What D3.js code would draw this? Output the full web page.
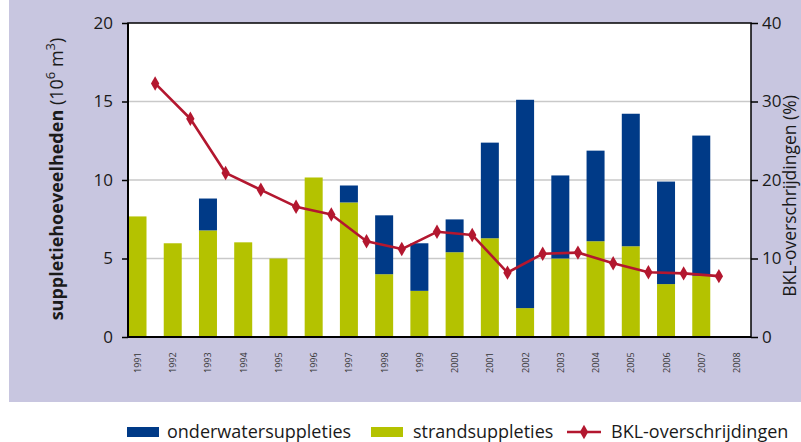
<!DOCTYPE html>
<html>
<head>
<meta charset="utf-8">
<script src="https://cdn.jsdelivr.net/npm/d3@7"></script>
<style>
  html, body { margin: 0; padding: 0; background: #ffffff; }
  svg { display: block; font-family: "Open Sans", "Noto Sans", sans-serif; }
</style>
</head>
<body>
<svg id="chart" width="801" height="442"></svg>
<script>
const years = ["1991","1992","1993","1994","1995","1996","1997","1998","1999","2000","2001","2002","2003","2004","2005","2006","2007","2008"];
const strand = [7.68, 5.97, 6.79, 6.03, 5.0, 10.16, 8.57, 4.0, 2.94, 5.4, 6.29, 1.84, 5.0, 6.1, 5.78, 3.37, 3.9, null];
const onderwater = [0, 0, 2.03, 0, 0, 0, 1.08, 3.75, 3.03, 2.09, 6.09, 13.27, 5.29, 5.77, 8.44, 6.53, 8.93, null];
const bkl = [32.3, 27.8, 20.9, 18.75, 16.6, 15.6, 12.2, 11.2, 13.4, 13.0, 8.2, 10.6, 10.75, 9.4, 8.25, 8.1, 7.75, null];
const leftTicks = [0, 5, 10, 15, 20];
const rightTicks = [0, 10, 20, 30, 40];
const seriesNames = ["onderwatersuppleties", "strandsuppleties", "BKL-overschrijdingen"];

const colors = { blue: "#003a87", green: "#b4c200", red: "#b3172f", bg: "#c8c6e0" };

const svg = d3.select("#chart");
const m = { left: 128, right: 751, top: 23, bottom: 337 };

svg.append("rect").attr("x", 9).attr("y", 0).attr("width", 792).attr("height", 402).attr("fill", colors.bg);
svg.append("rect").attr("x", m.left).attr("y", m.top).attr("width", m.right - m.left).attr("height", m.bottom - m.top).attr("fill", "#fff");

const x = d3.scalePoint().domain(years).range([137.5, 736.5]);
const yL = d3.scaleLinear().domain([0, 20]).range([m.bottom, m.top]);
const yR = d3.scaleLinear().domain([0, 40]).range([m.bottom, m.top]);
const barW = 18;

// gridlines
svg.append("g").selectAll("line").data(leftTicks.filter(t => t > 0 && t < 20)).join("line")
  .attr("x1", m.left).attr("x2", m.right).attr("y1", d => yL(d)).attr("y2", d => yL(d))
  .attr("stroke", "#c9c9c9").attr("stroke-width", 1.5);

const data = years.map((y, i) => ({ year: y, s: strand[i], o: onderwater[i], b: bkl[i] }));

// bars
const bars = svg.append("g");
bars.selectAll("rect.s").data(data.filter(d => d.s != null)).join("rect")
  .attr("x", d => x(d.year) - barW / 2).attr("width", barW)
  .attr("y", d => yL(d.s)).attr("height", d => yL(0) - yL(d.s)).attr("fill", colors.green);
bars.selectAll("rect.o").data(data.filter(d => d.o)).join("rect")
  .attr("x", d => x(d.year) - barW / 2).attr("width", barW)
  .attr("y", d => yL(d.s + d.o)).attr("height", d => yL(d.s) - yL(d.s + d.o)).attr("fill", colors.blue);

// line
const off = x.step() / 2;
const lineData = data.filter(d => d.b != null);
svg.append("path").datum(lineData)
  .attr("d", d3.line().x(d => x(d.year) + off).y(d => yR(d.b)))
  .attr("fill", "none").attr("stroke", colors.red).attr("stroke-width", 2.6).attr("stroke-linejoin", "round");
const diamond = d3.symbol().type(d3.symbolDiamond).size(60);
svg.append("g").selectAll("path").data(lineData).join("path")
  .attr("transform", d => `translate(${x(d.year) + off},${yR(d.b)})`)
  .attr("d", diamond).attr("fill", colors.red);

// frame
svg.append("rect").attr("x", m.left).attr("y", m.top).attr("width", m.right - m.left).attr("height", m.bottom - m.top)
  .attr("fill", "none").attr("stroke", "#000").attr("stroke-width", 1.5);
svg.append("line").attr("x1", m.left).attr("x2", m.right).attr("y1", m.bottom).attr("y2", m.bottom).attr("stroke", "#000").attr("stroke-width", 2);
svg.append("line").attr("x1", m.left).attr("x2", m.left).attr("y1", m.top).attr("y2", m.bottom).attr("stroke", "#000").attr("stroke-width", 2);

// left axis
const axL = d3.axisLeft(yL).tickValues(leftTicks).tickSize(6).tickPadding(9);
const gL = svg.append("g").attr("transform", `translate(${m.left},0)`).call(axL);
gL.select(".domain").remove();
gL.selectAll("line").attr("stroke", "#000").attr("stroke-width", 1.5);
gL.selectAll("text").attr("font-size", 17).attr("fill", "#1a1a1a").attr("font-family", "'Open Sans', sans-serif");

// right axis
const axR = d3.axisRight(yR).tickValues(rightTicks).tickSize(7).tickPadding(4);
const gR = svg.append("g").attr("transform", `translate(${m.right},0)`).call(axR);
gR.select(".domain").remove();
gR.selectAll("line").attr("stroke", "#000").attr("stroke-width", 1.5);
gR.selectAll("text").attr("font-size", 17).attr("fill", "#1a1a1a").attr("font-family", "'Open Sans', sans-serif");

// x labels
svg.append("g").selectAll("text").data(years).join("text")
  .attr("transform", d => `translate(${x(d) + 3.5},373) rotate(-90)`)
  .attr("text-anchor", "start").attr("font-size", 9).attr("fill", "#333")
  .text(d => d);

// left title
const lt = svg.append("text").attr("transform", "translate(63,179) rotate(-90)")
  .attr("text-anchor", "middle").attr("font-size", 18).attr("fill", "#1a1a1a");
lt.append("tspan").attr("font-weight", "bold").text("suppletiehoeveelheden ");
lt.append("tspan").text("(10");
lt.append("tspan").attr("font-size", 13).attr("dy", -8).text("6");
lt.append("tspan").attr("dy", 8).text(" m");
lt.append("tspan").attr("font-size", 13).attr("dy", -8).text("3");
lt.append("tspan").attr("dy", 8).text(")");

// right title
svg.append("text").attr("transform", "translate(796,196) rotate(-90)")
  .attr("text-anchor", "middle").attr("font-size", 17.5).attr("fill", "#1a1a1a")
  .text("BKL-overschrijdingen (%)");

// legend
const lg = svg.append("g");
lg.append("rect").attr("x", 127).attr("y", 427).attr("width", 32).attr("height", 10).attr("fill", colors.blue);
lg.append("text").attr("x", 167).attr("y", 438).attr("font-size", 18).attr("fill", "#1a1a1a").text(seriesNames[0]);
lg.append("rect").attr("x", 371).attr("y", 427).attr("width", 32).attr("height", 10).attr("fill", colors.green);
lg.append("text").attr("x", 413).attr("y", 438).attr("font-size", 18).attr("fill", "#1a1a1a").text(seriesNames[1]);
lg.append("line").attr("x1", 567).attr("x2", 601).attr("y1", 432).attr("y2", 432).attr("stroke", colors.red).attr("stroke-width", 2.6);
lg.append("path").attr("transform", "translate(584,432)").attr("d", diamond).attr("fill", colors.red);
lg.append("text").attr("x", 611).attr("y", 438).attr("font-size", 18).attr("fill", "#1a1a1a").text(seriesNames[2]);
</script>
</body>
</html>
